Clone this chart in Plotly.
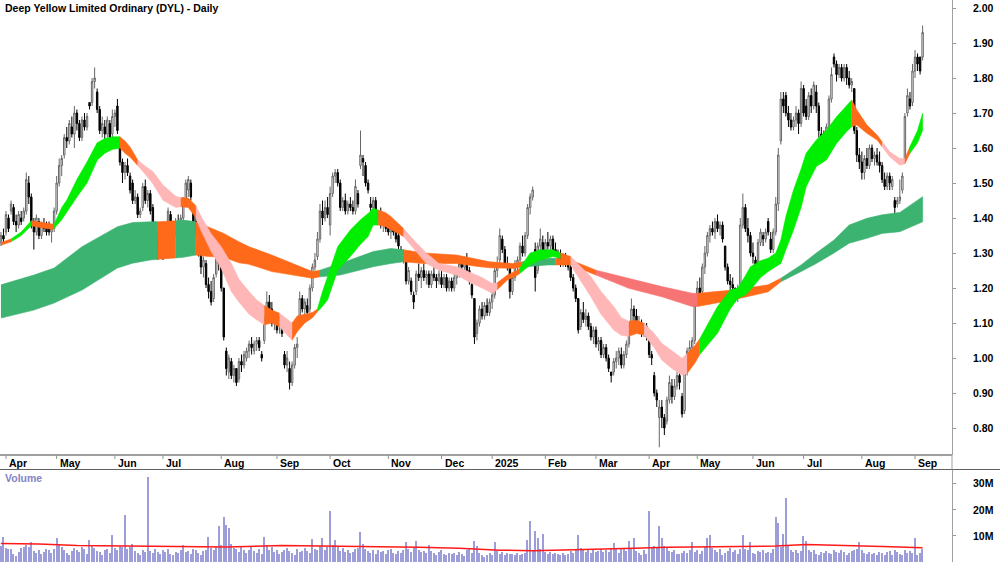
import pandas as pd
import plotly.graph_objects as go

# ---------------- data ----------------
title_text = "Deep Yellow Limited Ordinary (DYL) - Daily"
start_date = "2024-03-27"
end_date = "2025-09-04"
asx_holidays = ["2024-03-29", "2024-04-01", "2024-04-25", "2024-06-10", "2024-12-25",
                "2024-12-26", "2025-01-01", "2025-01-27", "2025-04-18", "2025-04-21",
                "2025-04-25", "2025-06-09"]

opens = [
    1.33, 1.35, 1.36, 1.40, 1.42, 1.43, 1.39, 1.38, 1.40, 1.40,
    1.42, 1.50, 1.46, 1.38, 1.36, 1.39, 1.35, 1.38, 1.37, 1.38,
    1.36, 1.37, 1.42, 1.50, 1.55, 1.58, 1.63, 1.62, 1.66, 1.64,
    1.70, 1.67, 1.63, 1.68, 1.66, 1.73, 1.73, 1.79, 1.76, 1.71,
    1.65, 1.66, 1.64, 1.67, 1.64, 1.69, 1.72, 1.61, 1.56, 1.53,
    1.55, 1.52, 1.50, 1.45, 1.46, 1.41, 1.43, 1.49, 1.45, 1.47,
    1.43, 1.38, 1.33, 1.30, 1.34, 1.32, 1.34, 1.41, 1.38, 1.36,
    1.39, 1.38, 1.40, 1.45, 1.48, 1.50, 1.43, 1.39, 1.35, 1.30,
    1.26, 1.27, 1.21, 1.19, 1.17, 1.24, 1.31, 1.26, 1.20, 1.02,
    0.96, 0.99, 0.95, 0.97, 0.94, 0.99, 0.98, 1.00, 1.02, 1.04,
    1.02, 1.04, 1.05, 1.01, 1.05, 1.11, 1.16, 1.14, 1.11, 1.12,
    1.09, 1.10, 1.01, 0.98, 0.97, 0.93, 0.98, 1.03, 1.12, 1.17,
    1.14, 1.15, 1.14, 1.20, 1.26, 1.29, 1.34, 1.42, 1.40, 1.43,
    1.38, 1.47, 1.52, 1.53, 1.50, 1.43, 1.45, 1.42, 1.44, 1.43,
    1.42, 1.47, 1.55, 1.57, 1.55, 1.50, 1.44, 1.43, 1.45, 1.40,
    1.41, 1.38, 1.39, 1.37, 1.36, 1.37, 1.36, 1.35, 1.31, 1.29,
    1.28, 1.22, 1.22, 1.18, 1.19, 1.24, 1.23, 1.25, 1.23, 1.24,
    1.21, 1.24, 1.23, 1.22, 1.23, 1.21, 1.23, 1.20, 1.22, 1.20,
    1.23, 1.24, 1.27, 1.26, 1.28, 1.25, 1.21, 1.17, 1.07, 1.10,
    1.14, 1.12, 1.15, 1.13, 1.16, 1.18, 1.25, 1.28, 1.34, 1.31,
    1.27, 1.26, 1.19, 1.23, 1.27, 1.28, 1.32, 1.30, 1.35, 1.43,
    1.46, 1.31, 1.25, 1.32, 1.33, 1.30, 1.33, 1.32, 1.34, 1.31,
    1.30, 1.29, 1.27, 1.29, 1.27, 1.26, 1.23, 1.20, 1.17, 1.09,
    1.13, 1.11, 1.12, 1.09, 1.06, 1.08, 1.04, 1.05, 1.01, 1.03,
    1.00, 0.96, 0.96, 0.99, 1.00, 1.01, 0.98, 1.01, 1.04, 1.09,
    1.14, 1.12, 1.09, 1.10, 1.08, 1.09, 1.06, 1.01, 0.95, 0.90,
    0.83, 0.86, 0.83, 0.82, 0.88, 0.92, 0.89, 0.92, 0.95, 0.89,
    0.85, 0.96, 1.02, 1.03, 1.05, 1.16, 1.20, 1.19, 1.26, 1.30,
    1.35, 1.37, 1.36, 1.39, 1.37, 1.38, 1.32, 1.26, 1.22, 1.21,
    1.20, 1.17, 1.21, 1.38, 1.43, 1.37, 1.35, 1.30, 1.28, 1.27,
    1.33, 1.35, 1.34, 1.39, 1.34, 1.31, 1.36, 1.44, 1.62, 1.74,
    1.75, 1.70, 1.68, 1.66, 1.68, 1.70, 1.67, 1.77, 1.72, 1.69,
    1.75, 1.72, 1.76, 1.72, 1.64, 1.64, 1.62, 1.66, 1.74, 1.86,
    1.84, 1.81, 1.83, 1.80, 1.83, 1.80, 1.78, 1.77, 1.65, 1.58,
    1.56, 1.53, 1.57, 1.55, 1.60, 1.57, 1.58, 1.56, 1.55, 1.51,
    1.49, 1.52, 1.49, 1.45, 1.44, 1.45, 1.48, 1.57, 1.70, 1.74,
    1.73, 1.82, 1.86, 1.86, 1.86]

highs = [
    1.36, 1.37, 1.42, 1.41, 1.45, 1.44, 1.41, 1.42, 1.42, 1.43,
    1.53, 1.52, 1.47, 1.40, 1.41, 1.40, 1.39, 1.40, 1.39, 1.39,
    1.38, 1.43, 1.52, 1.57, 1.58, 1.64, 1.66, 1.68, 1.69, 1.72,
    1.71, 1.68, 1.69, 1.70, 1.70, 1.73, 1.80, 1.83, 1.77, 1.72,
    1.69, 1.68, 1.69, 1.68, 1.71, 1.71, 1.74, 1.62, 1.57, 1.56,
    1.57, 1.53, 1.51, 1.48, 1.47, 1.43, 1.50, 1.51, 1.48, 1.48,
    1.44, 1.39, 1.36, 1.36, 1.36, 1.35, 1.43, 1.42, 1.39, 1.40,
    1.41, 1.41, 1.46, 1.51, 1.52, 1.51, 1.44, 1.40, 1.36, 1.31,
    1.29, 1.28, 1.23, 1.22, 1.24, 1.34, 1.33, 1.27, 1.20, 1.03,
    1.01, 1.00, 0.98, 0.97, 1.00, 1.01, 1.02, 1.03, 1.05, 1.06,
    1.05, 1.06, 1.06, 1.02, 1.12, 1.19, 1.18, 1.16, 1.13, 1.13,
    1.12, 1.11, 1.02, 1.02, 0.99, 0.99, 1.04, 1.06, 1.19, 1.18,
    1.17, 1.17, 1.21, 1.27, 1.30, 1.36, 1.44, 1.45, 1.45, 1.46,
    1.49, 1.53, 1.54, 1.54, 1.51, 1.46, 1.47, 1.45, 1.46, 1.45,
    1.51, 1.48, 1.65, 1.58, 1.56, 1.51, 1.46, 1.46, 1.46, 1.42,
    1.43, 1.40, 1.40, 1.39, 1.38, 1.39, 1.37, 1.37, 1.32, 1.31,
    1.29, 1.26, 1.23, 1.19, 1.25, 1.27, 1.26, 1.27, 1.25, 1.25,
    1.25, 1.26, 1.24, 1.25, 1.25, 1.24, 1.24, 1.23, 1.23, 1.24,
    1.25, 1.28, 1.29, 1.29, 1.30, 1.26, 1.22, 1.17, 1.11, 1.15,
    1.16, 1.16, 1.17, 1.17, 1.19, 1.27, 1.29, 1.37, 1.35, 1.32,
    1.29, 1.27, 1.24, 1.28, 1.29, 1.33, 1.35, 1.36, 1.44, 1.47,
    1.49, 1.33, 1.33, 1.37, 1.35, 1.34, 1.36, 1.35, 1.35, 1.33,
    1.31, 1.31, 1.30, 1.30, 1.29, 1.27, 1.24, 1.21, 1.17, 1.14,
    1.16, 1.14, 1.13, 1.10, 1.09, 1.09, 1.06, 1.06, 1.04, 1.04,
    1.01, 0.96, 1.00, 1.02, 1.03, 1.03, 1.02, 1.05, 1.10, 1.17,
    1.15, 1.14, 1.12, 1.11, 1.10, 1.10, 1.06, 1.02, 0.96, 0.91,
    0.88, 0.88, 0.84, 0.89, 0.95, 0.94, 0.94, 0.96, 0.96, 0.90,
    0.97, 1.03, 1.05, 1.06, 1.17, 1.22, 1.23, 1.27, 1.32, 1.36,
    1.38, 1.39, 1.40, 1.41, 1.39, 1.39, 1.32, 1.27, 1.24, 1.23,
    1.20, 1.21, 1.40, 1.47, 1.44, 1.40, 1.36, 1.33, 1.29, 1.34,
    1.37, 1.36, 1.37, 1.40, 1.36, 1.37, 1.46, 1.60, 1.76, 1.76,
    1.76, 1.72, 1.70, 1.69, 1.72, 1.71, 1.79, 1.78, 1.74, 1.76,
    1.77, 1.79, 1.78, 1.73, 1.66, 1.65, 1.67, 1.75, 1.83, 1.87,
    1.85, 1.84, 1.84, 1.84, 1.84, 1.82, 1.80, 1.77, 1.66, 1.60,
    1.59, 1.58, 1.60, 1.61, 1.61, 1.59, 1.60, 1.59, 1.56, 1.53,
    1.53, 1.53, 1.52, 1.46, 1.46, 1.51, 1.53, 1.70, 1.77, 1.76,
    1.84, 1.88, 1.87, 1.86, 1.95]

lows = [
    1.32, 1.33, 1.35, 1.36, 1.41, 1.38, 1.36, 1.37, 1.38, 1.39,
    1.41, 1.44, 1.37, 1.31, 1.35, 1.34, 1.34, 1.36, 1.35, 1.35,
    1.33, 1.36, 1.41, 1.49, 1.52, 1.57, 1.60, 1.61, 1.63, 1.60,
    1.65, 1.62, 1.62, 1.65, 1.65, 1.71, 1.72, 1.77, 1.70, 1.64,
    1.63, 1.62, 1.63, 1.62, 1.63, 1.66, 1.64, 1.55, 1.50, 1.51,
    1.52, 1.47, 1.44, 1.44, 1.40, 1.40, 1.42, 1.44, 1.43, 1.41,
    1.37, 1.30, 1.28, 1.29, 1.28, 1.29, 1.33, 1.35, 1.34, 1.35,
    1.37, 1.37, 1.39, 1.44, 1.46, 1.45, 1.38, 1.35, 1.29, 1.24,
    1.23, 1.20, 1.17, 1.15, 1.16, 1.23, 1.25, 1.19, 1.05, 0.95,
    0.94, 0.94, 0.93, 0.92, 0.93, 0.96, 0.97, 0.99, 1.00, 1.01,
    1.01, 1.02, 1.02, 0.99, 1.04, 1.10, 1.12, 1.09, 1.08, 1.07,
    1.07, 1.06, 0.97, 0.96, 0.91, 0.92, 0.97, 1.00, 1.11, 1.13,
    1.12, 1.12, 1.13, 1.19, 1.25, 1.28, 1.33, 1.38, 1.39, 1.40,
    1.35, 1.46, 1.50, 1.49, 1.42, 1.42, 1.41, 1.41, 1.42, 1.41,
    1.41, 1.43, 1.54, 1.52, 1.49, 1.47, 1.42, 1.40, 1.39, 1.39,
    1.37, 1.36, 1.36, 1.35, 1.34, 1.35, 1.33, 1.31, 1.28, 1.27,
    1.21, 1.21, 1.18, 1.14, 1.18, 1.22, 1.20, 1.22, 1.21, 1.20,
    1.20, 1.22, 1.20, 1.21, 1.20, 1.20, 1.19, 1.19, 1.19, 1.19,
    1.21, 1.23, 1.25, 1.25, 1.24, 1.21, 1.17, 1.04, 1.05, 1.09,
    1.11, 1.11, 1.12, 1.12, 1.14, 1.17, 1.23, 1.27, 1.30, 1.26,
    1.25, 1.17, 1.18, 1.22, 1.25, 1.27, 1.29, 1.29, 1.34, 1.41,
    1.45, 1.19, 1.24, 1.30, 1.29, 1.28, 1.31, 1.30, 1.30, 1.29,
    1.27, 1.26, 1.26, 1.26, 1.25, 1.22, 1.19, 1.16, 1.07, 1.08,
    1.10, 1.09, 1.08, 1.05, 1.04, 1.03, 1.02, 1.00, 1.00, 0.99,
    0.96, 0.93, 0.95, 0.97, 0.98, 0.97, 0.97, 1.00, 1.03, 1.08,
    1.10, 1.08, 1.07, 1.06, 1.06, 1.05, 1.00, 0.98, 0.89, 0.86,
    0.745, 0.80, 0.78, 0.81, 0.87, 0.87, 0.88, 0.91, 0.91, 0.83,
    0.84, 0.95, 1.00, 1.01, 1.04, 1.15, 1.17, 1.18, 1.24, 1.29,
    1.33, 1.35, 1.34, 1.36, 1.35, 1.33, 1.25, 1.21, 1.19, 1.18,
    1.16, 1.16, 1.20, 1.37, 1.36, 1.33, 1.29, 1.27, 1.25, 1.26,
    1.32, 1.32, 1.33, 1.35, 1.30, 1.30, 1.35, 1.42, 1.61, 1.70,
    1.69, 1.66, 1.65, 1.65, 1.66, 1.64, 1.66, 1.69, 1.68, 1.68,
    1.70, 1.71, 1.70, 1.63, 1.61, 1.60, 1.61, 1.65, 1.73, 1.83,
    1.79, 1.80, 1.79, 1.79, 1.78, 1.77, 1.76, 1.64, 1.56, 1.54,
    1.51, 1.51, 1.54, 1.54, 1.56, 1.55, 1.55, 1.53, 1.50, 1.48,
    1.48, 1.48, 1.48, 1.41, 1.43, 1.44, 1.47, 1.56, 1.69, 1.71,
    1.72, 1.80, 1.82, 1.81, 1.85]

closes = [
    1.35, 1.34, 1.41, 1.37, 1.44, 1.39, 1.38, 1.41, 1.39, 1.42,
    1.51, 1.46, 1.38, 1.36, 1.40, 1.35, 1.38, 1.37, 1.36, 1.36,
    1.37, 1.42, 1.50, 1.55, 1.57, 1.63, 1.62, 1.67, 1.64, 1.70,
    1.67, 1.63, 1.68, 1.66, 1.69, 1.72, 1.79, 1.80, 1.71, 1.65,
    1.67, 1.64, 1.68, 1.63, 1.69, 1.70, 1.65, 1.56, 1.53, 1.55,
    1.53, 1.48, 1.45, 1.46, 1.41, 1.42, 1.49, 1.45, 1.47, 1.42,
    1.38, 1.32, 1.30, 1.35, 1.32, 1.34, 1.42, 1.37, 1.35, 1.39,
    1.38, 1.40, 1.45, 1.50, 1.51, 1.46, 1.39, 1.37, 1.30, 1.26,
    1.28, 1.21, 1.19, 1.16, 1.23, 1.32, 1.27, 1.20, 1.06, 0.97,
    1.00, 0.95, 0.97, 0.93, 0.99, 0.98, 1.01, 1.02, 1.04, 1.03,
    1.04, 1.05, 1.03, 1.00, 1.11, 1.16, 1.14, 1.10, 1.12, 1.08,
    1.11, 1.07, 0.98, 1.00, 0.93, 0.98, 1.03, 1.04, 1.17, 1.14,
    1.16, 1.13, 1.20, 1.26, 1.28, 1.34, 1.42, 1.40, 1.43, 1.41,
    1.47, 1.52, 1.53, 1.50, 1.43, 1.45, 1.42, 1.44, 1.43, 1.42,
    1.49, 1.44, 1.58, 1.56, 1.50, 1.48, 1.43, 1.45, 1.40, 1.41,
    1.38, 1.39, 1.37, 1.36, 1.37, 1.36, 1.34, 1.32, 1.29, 1.30,
    1.22, 1.25, 1.19, 1.16, 1.24, 1.23, 1.25, 1.23, 1.24, 1.21,
    1.24, 1.23, 1.22, 1.24, 1.21, 1.23, 1.20, 1.22, 1.20, 1.23,
    1.24, 1.27, 1.26, 1.28, 1.25, 1.22, 1.18, 1.06, 1.10, 1.14,
    1.12, 1.15, 1.13, 1.16, 1.18, 1.25, 1.27, 1.35, 1.31, 1.27,
    1.26, 1.19, 1.23, 1.27, 1.28, 1.32, 1.30, 1.35, 1.43, 1.46,
    1.48, 1.23, 1.32, 1.34, 1.30, 1.33, 1.32, 1.34, 1.31, 1.30,
    1.29, 1.27, 1.29, 1.27, 1.26, 1.23, 1.20, 1.17, 1.08, 1.13,
    1.11, 1.12, 1.09, 1.06, 1.08, 1.04, 1.05, 1.01, 1.03, 1.00,
    0.97, 0.95, 0.99, 1.00, 1.02, 0.98, 1.01, 1.04, 1.09, 1.14,
    1.12, 1.09, 1.10, 1.08, 1.09, 1.06, 1.01, 1.00, 0.90, 0.88,
    0.86, 0.83, 0.80, 0.88, 0.93, 0.89, 0.92, 0.95, 0.93, 0.84,
    0.96, 1.02, 1.03, 1.05, 1.15, 1.20, 1.18, 1.26, 1.30, 1.35,
    1.37, 1.36, 1.39, 1.37, 1.38, 1.34, 1.26, 1.22, 1.21, 1.20,
    1.17, 1.20, 1.38, 1.43, 1.37, 1.35, 1.30, 1.29, 1.26, 1.33,
    1.36, 1.34, 1.36, 1.36, 1.31, 1.36, 1.44, 1.58, 1.74, 1.72,
    1.70, 1.68, 1.66, 1.68, 1.70, 1.67, 1.77, 1.70, 1.69, 1.75,
    1.72, 1.78, 1.72, 1.65, 1.62, 1.61, 1.66, 1.74, 1.81, 1.84,
    1.81, 1.83, 1.80, 1.83, 1.80, 1.78, 1.79, 1.65, 1.58, 1.56,
    1.53, 1.57, 1.55, 1.60, 1.57, 1.58, 1.56, 1.55, 1.51, 1.49,
    1.52, 1.50, 1.51, 1.43, 1.45, 1.46, 1.52, 1.69, 1.75, 1.72,
    1.82, 1.86, 1.84, 1.82, 1.93]

volume_m = [
    6.1, 9.6, 5.2, 4.8, 4.9, 3.1, 2.4, 4.0, 5.3, 5.8,
    6.5, 5.6, 7.7, 4.2, 3.5, 4.6, 2.9, 3.8, 5.0, 4.4,
    3.6, 5.1, 9.0, 6.8, 5.9, 4.7, 3.3, 2.6, 4.1, 5.4,
    4.6, 3.9, 5.7, 4.8, 3.2, 8.4, 6.0, 5.5, 4.3, 3.7,
    2.8, 4.5, 4.9, 3.6, 10.3, 5.2, 4.4, 6.1, 5.6, 17.9,
    4.8, 5.9, 7.0, 4.1, 3.4, 2.7, 4.6, 3.8, 32.3, 4.2,
    3.5, 4.9, 3.9, 3.1, 4.4, 3.7, 4.8, 3.2, 2.6, 4.0,
    3.5, 4.6, 6.5, 3.9, 4.3, 3.0, 5.1, 4.4, 3.6, 2.8,
    4.1, 4.7, 9.6, 5.3, 4.6, 5.8, 13.8, 6.4, 17.0, 14.1,
    12.8, 6.9, 5.5, 4.8, 3.9, 5.6, 4.7, 3.3, 4.5, 5.9,
    4.2, 3.6, 4.9, 3.1, 9.6, 6.3, 4.4, 5.7, 3.8, 4.6,
    2.9, 3.7, 4.5, 5.2, 4.1, 3.4, 2.6, 4.8, 3.9, 4.2,
    5.5, 4.3, 3.6, 8.7, 5.1, 4.7, 6.2, 9.0, 4.4, 5.8,
    19.4, 6.3, 8.4, 5.6, 4.1, 5.2, 3.7, 4.6, 3.3, 4.0,
    4.8, 5.4, 11.3, 6.7, 4.9, 4.2, 3.5, 4.4, 3.1, 4.7,
    3.8, 4.3, 3.2, 4.6, 5.0, 3.6, 2.9, 4.1, 3.4, 4.5,
    7.7, 4.8, 3.9, 5.2, 7.9, 4.6, 3.7, 4.1, 3.3, 6.5,
    4.2, 3.5, 2.8, 3.9, 4.4, 3.1, 2.5, 3.6, 2.9, 3.3,
    2.7, 3.8, 3.2, 2.4, 4.6, 5.1, 3.5, 7.9, 6.2, 3.4,
    2.6, 1.9, 2.8, 3.3, 2.5, 7.7, 4.1, 3.2, 3.8, 2.7,
    3.4, 2.9, 3.1, 2.6, 3.5, 2.8, 3.0, 3.6, 8.4, 15.6,
    4.3, 11.9, 9.0, 5.0, 10.5, 3.7, 3.2, 4.0, 2.9, 3.4,
    3.1, 2.7, 3.3, 2.5, 3.0, 4.1, 3.6, 4.8, 10.3, 5.2,
    4.4, 3.8, 4.6, 3.5, 4.9, 3.9, 4.3, 5.1, 3.7, 4.5,
    4.0, 5.3, 7.4, 4.8, 3.6, 4.9, 5.5, 4.2, 7.9, 5.0,
    9.2, 4.1, 3.5, 2.8, 4.4, 3.2, 19.4, 5.3, 6.1, 5.7,
    13.7, 9.1, 6.0, 5.4, 4.3, 3.8, 4.6, 3.2, 2.9, 3.6,
    4.1, 3.4, 4.7, 7.7, 3.9, 4.4, 3.1, 4.2, 5.6, 9.2,
    10.3, 5.2, 4.6, 3.7, 4.9, 2.8, 3.5, 4.1, 5.3, 3.9,
    4.5, 3.2, 4.8, 10.3, 5.1, 4.4, 7.7, 3.6, 2.9, 4.2,
    3.7, 4.6, 3.3, 4.0, 3.5, 4.8, 17.3, 14.9, 5.6, 10.5,
    24.3, 6.2, 4.7, 3.9, 4.5, 3.4, 4.1, 10.0, 7.9, 4.6,
    3.8, 4.4, 3.1, 2.7, 4.0, 3.5, 4.3, 3.6, 2.9, 4.7,
    3.9, 3.3, 4.5, 3.8, 2.6, 3.4, 4.1, 4.6, 5.0, 7.7,
    4.4, 3.6, 2.9, 3.8, 3.1, 3.5, 2.7, 4.0, 3.3, 2.6,
    3.7, 4.2, 2.8, 4.5, 3.9, 3.2, 2.5, 4.6, 3.6, 4.1,
    3.4, 9.1, 2.7, 3.5, 5.0]

# short-term ribbon (at these trading-day positions)
short_idx = [0, 4, 8, 12, 16, 20, 21, 24, 26, 30, 34, 38, 41, 44, 47, 49, 51, 54, 57, 60,
             64, 69, 71, 74, 77, 79, 83, 87, 91, 94, 98, 101, 104, 107, 110, 113, 115, 117, 120, 123,
             125, 127, 129, 133, 138, 142, 145, 147, 149, 152, 154, 157, 159, 163, 168, 173, 180, 186, 190, 194,
             196, 200, 204, 205, 209, 213, 218, 221, 225, 229, 233, 237, 242, 245, 248, 251, 254, 258, 261, 265,
             269, 271, 274, 276, 280, 283, 288, 291, 294, 296, 300, 303, 306, 308, 310, 313, 316, 318, 322, 326,
             330, 334, 336, 338, 342, 346, 348, 351, 355, 357, 359, 362, 364]
short_top = [1.330, 1.340, 1.360, 1.392, 1.388, 1.382, 1.382, 1.430, 1.451, 1.510,
             1.560, 1.615, 1.627, 1.632, 1.632, 1.620, 1.603, 1.566, 1.548, 1.533,
             1.494, 1.462, 1.458, 1.457, 1.435, 1.405, 1.355, 1.318, 1.270, 1.225,
             1.190, 1.166, 1.150, 1.137, 1.128, 1.110, 1.100, 1.120, 1.125, 1.130,
             1.140, 1.190, 1.232, 1.318, 1.366, 1.395, 1.413, 1.428, 1.423, 1.415,
             1.404, 1.385, 1.370, 1.337, 1.300, 1.270, 1.261, 1.242, 1.230, 1.213,
             1.215, 1.237, 1.251, 1.258, 1.300, 1.309, 1.309, 1.300, 1.290, 1.262,
             1.232, 1.190, 1.147, 1.115, 1.105, 1.108, 1.099, 1.070, 1.042, 1.020,
             0.999, 1.013, 1.035, 1.055, 1.110, 1.147, 1.194, 1.200, 1.235, 1.261,
             1.278, 1.285, 1.300, 1.337, 1.404, 1.480, 1.540, 1.585, 1.623, 1.651,
             1.689, 1.723, 1.737, 1.709, 1.666, 1.637, 1.618, 1.589, 1.570, 1.570,
             1.604, 1.650, 1.699]
short_bot = [1.322, 1.332, 1.350, 1.378, 1.372, 1.368, 1.370, 1.395, 1.414, 1.460,
             1.500, 1.565, 1.585, 1.596, 1.600, 1.585, 1.574, 1.550, 1.525, 1.498,
             1.451, 1.430, 1.432, 1.430, 1.400, 1.365, 1.305, 1.256, 1.190, 1.160,
             1.125, 1.109, 1.095, 1.100, 1.089, 1.065, 1.051, 1.075, 1.100, 1.115,
             1.132, 1.148, 1.166, 1.251, 1.290, 1.325, 1.347, 1.380, 1.380, 1.375,
             1.366, 1.355, 1.347, 1.313, 1.270, 1.251, 1.237, 1.213, 1.200, 1.185,
             1.195, 1.223, 1.237, 1.242, 1.266, 1.280, 1.290, 1.285, 1.266, 1.220,
             1.175, 1.125, 1.080, 1.065, 1.062, 1.070, 1.066, 1.030, 0.994, 0.970,
             0.951, 0.956, 0.985, 1.010, 1.045, 1.071, 1.140, 1.170, 1.180, 1.194,
             1.230, 1.247, 1.261, 1.270, 1.309, 1.366, 1.430, 1.489, 1.547, 1.566,
             1.613, 1.647, 1.661, 1.666, 1.642, 1.623, 1.604, 1.575, 1.551, 1.555,
             1.585, 1.615, 1.651]
# colour of each segment: G rising, O turning, P falling
short_col = ("OGGOOOGGGG" "GGGGOOOPPP" "PPOOPPPPPP" "PPOOPPOOOO" "GGGGGGGGOO"
             "OOPPPPPPPP" "OOOGGGGOPP" "PPPPOOPPPP" "POOGGGGGGG" "GGGGGGGGGG"
             "GGOOOOPPPO" "GG")

# long-term ribbon
long_idx = [0, 13, 21, 32, 46, 52, 59, 62, 69, 72, 77, 82, 88, 94, 98, 107, 115, 123, 126, 134,
            147, 154, 159, 167, 180, 189, 193, 202, 206, 216, 219, 225, 235, 248, 261, 273, 275, 289, 303, 308,
            316, 322, 329, 335, 342, 348, 355, 364]
long_top = [1.209, 1.237, 1.257, 1.318, 1.375, 1.387, 1.389, 1.389, 1.392, 1.394,
            1.389, 1.375, 1.356, 1.332, 1.318, 1.294, 1.270, 1.247, 1.251, 1.270,
            1.304, 1.313, 1.309, 1.300, 1.294, 1.280, 1.275, 1.270, 1.275, 1.285,
            1.285, 1.280, 1.251, 1.228, 1.204, 1.185, 1.185, 1.194, 1.209, 1.228,
            1.266, 1.300, 1.337, 1.380, 1.399, 1.409, 1.416, 1.461]
long_bot = [1.114, 1.137, 1.157, 1.194, 1.257, 1.271, 1.280, 1.282, 1.286, 1.288,
            1.294, 1.290, 1.288, 1.272, 1.268, 1.247, 1.237, 1.228, 1.232, 1.237,
            1.261, 1.270, 1.275, 1.270, 1.270, 1.261, 1.258, 1.256, 1.260, 1.266,
            1.266, 1.266, 1.237, 1.199, 1.175, 1.147, 1.147, 1.166, 1.189, 1.218,
            1.247, 1.270, 1.300, 1.328, 1.342, 1.356, 1.361, 1.389]
long_col = "DDDDDDDODD" "OOOOOOOODD" "DDOOOOOODD" "OORRRROOOD" "DDDDDDD"

# volume moving average (millions)
vma_idx = [0, 15, 30, 55, 89, 111, 148, 165, 181, 197, 210, 237, 250, 263, 306, 318, 339, 348, 364]
vma_val = [7.1, 6.9, 6.3, 6.0, 5.7, 6.3, 6.0, 5.6, 5.2, 4.5, 4.3, 4.8, 5.2, 5.6, 6.1, 6.7, 6.3, 5.9, 5.4]

price_ticks = [0.80, 0.90, 1.00, 1.10, 1.20, 1.30, 1.40, 1.50, 1.60, 1.70, 1.80, 1.90, 2.00]
volume_ticks = [10, 20, 30]
volume_tick_text = ["10M", "20M", "30M"]

# ---------------- figure ----------------
W, H = 1000, 562
FONT = "Arial, Liberation Sans, sans-serif"
palette = {"G": "#00ee00", "O": "#ff6a1a", "P": "#ffb6b6",
           "D": "#3cb371", "R": "#f77474"}

dates = [d for d in pd.bdate_range(start_date, end_date) if d.strftime("%Y-%m-%d") not in asx_holidays]
n = min(len(dates), len(closes))
dates = dates[:n]
xs = list(range(n))

month_pos, month_lab = [], []
prev = None
for i, d in enumerate(dates):
    key = (d.year, d.month)
    if prev is not None and key != prev:
        month_pos.append(i)
        month_lab.append(str(d.year) if d.month == 1 else d.strftime("%b"))
    prev = key

fig = go.Figure()


def add_ribbon(idx, top, bot, cols):
    i = 0
    m = len(idx)
    while i < m - 1:
        c = cols[i]
        j = i
        while j < m - 1 and cols[j] == c:
            j += 1
        px = idx[i:j + 1] + idx[i:j + 1][::-1]
        py = top[i:j + 1] + bot[i:j + 1][::-1]
        fig.add_trace(go.Scatter(x=px, y=py, mode="lines", fill="toself",
                                 fillcolor=palette[c],
                                 line=dict(width=0.6, color=palette[c]),
                                 hoverinfo="skip", showlegend=False,
                                 xaxis="x", yaxis="y"))
        i = j


add_ribbon(long_idx, long_top, long_bot, long_col)
add_ribbon(short_idx, short_top, short_bot, short_col)

fig.add_trace(go.Candlestick(
    x=xs, open=opens[:n], high=highs[:n], low=lows[:n], close=closes[:n],
    increasing=dict(line=dict(color="#666666", width=1), fillcolor="#ffffff"),
    decreasing=dict(line=dict(color="#000000", width=1), fillcolor="#000000"),
    whiskerwidth=0, showlegend=False, hoverinfo="skip", xaxis="x", yaxis="y"))

fig.add_trace(go.Bar(x=xs, y=volume_m[:n], width=0.5,
                     marker=dict(color="#9d9dda", line=dict(width=0)),
                     showlegend=False, hoverinfo="skip", xaxis="x2", yaxis="y2"))
fig.add_trace(go.Scatter(x=vma_idx, y=vma_val, mode="lines",
                         line=dict(color="#ff1a1a", width=1.5),
                         showlegend=False, hoverinfo="skip", xaxis="x2", yaxis="y2"))

x_range = [-0.37, 375.6]
x_dom_end = 952 / W
price_dom = [(H - 455) / H, 1.0]
vol_dom = [0.0, (H - 470) / H]

axis_common = dict(showgrid=False, zeroline=False)
fig.update_layout(
    width=W, height=H, margin=dict(l=0, r=0, t=0, b=0),
    paper_bgcolor="white", plot_bgcolor="white", showlegend=False,
    hovermode=False, bargap=0, boxgap=0.2,
    xaxis=dict(domain=[0, x_dom_end], range=x_range, showticklabels=False, ticks="",
               showline=False, rangeslider=dict(visible=False), **axis_common),
    yaxis=dict(domain=price_dom, range=[0.7229, 2.0229], side="right", anchor="x",
               tickvals=price_ticks, showticklabels=False, ticks="outside", ticklen=3,
               tickcolor="#999999", showline=True, linecolor="#a0a0a0", linewidth=1,
               **axis_common),
    xaxis2=dict(domain=[0, x_dom_end], range=x_range, matches="x", anchor="y2",
                showticklabels=False, ticks="", showline=False, **axis_common),
    yaxis2=dict(domain=vol_dom, range=[0, 35.1], side="right", anchor="x2",
                tickvals=volume_ticks, showticklabels=False, ticks="outside", ticklen=3,
                tickcolor="#999999", showline=True, linecolor="#a0a0a0", linewidth=1,
                **axis_common),
)

ann = []
ann.append(dict(text="<b>" + title_text + "</b>", x=3 / W, y=1 - 8 / H, xref="paper", yref="paper",
                xanchor="left", yanchor="middle", showarrow=False,
                font=dict(family=FONT, size=10.5, color="#000000")))
for v in price_ticks:
    ann.append(dict(text="<b>%.2f</b>" % v, x=996 / W, y=v, xref="paper", yref="y",
                    xanchor="right", yanchor="middle", showarrow=False,
                    font=dict(family=FONT, size=10.5, color="#000000")))
for v, t in zip(volume_ticks, volume_tick_text):
    ann.append(dict(text="<b>" + t + "</b>", x=996 / W, y=v, xref="paper", yref="y2",
                    xanchor="right", yanchor="middle", showarrow=False,
                    font=dict(family=FONT, size=10.5, color="#000000")))
for p, lab in zip(month_pos, month_lab):
    ann.append(dict(text="<b>" + lab + "</b>", x=p, y=1 - 462.5 / H, xref="x", yref="paper",
                    xanchor="left", yanchor="middle", xshift=1, showarrow=False,
                    font=dict(family=FONT, size=10.5, color="#000000")))
ann.append(dict(text="<b>Volume</b>", x=3 / W, y=1 - 478 / H, xref="paper", yref="paper",
                xanchor="left", yanchor="middle", showarrow=False,
                font=dict(family=FONT, size=10.5, color="#8484c4")))
fig.update_layout(annotations=ann)

shapes = []
shapes.append(dict(type="line", xref="paper", yref="paper", x0=0, x1=x_dom_end,
                   y0=(H - 455) / H, y1=(H - 455) / H, line=dict(color="#a0a0a0", width=2)))
shapes.append(dict(type="line", xref="paper", yref="paper", x0=0, x1=1,
                   y0=(H - 469.5) / H, y1=(H - 469.5) / H, line=dict(color="#606060", width=1)))
shapes.append(dict(type="line", xref="paper", yref="paper", x0=x_dom_end, x1=x_dom_end,
                   y0=(H - 469.5) / H, y1=(H - 455) / H, line=dict(color="#a0a0a0", width=1)))
for p in month_pos:
    shapes.append(dict(type="line", xref="x", yref="paper", x0=p, x1=p,
                       y0=(H - 455) / H, y1=(H - 459) / H, line=dict(color="#909090", width=1)))
fig.update_layout(shapes=shapes)

fig.write_html("out.html")
